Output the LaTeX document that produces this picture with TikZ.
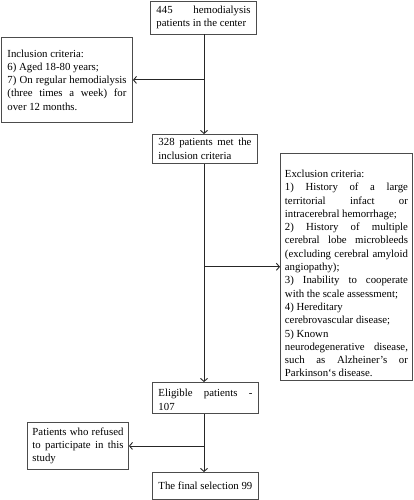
\documentclass[tikz,border=0pt]{standalone}
\usepackage{fontspec}
\setmainfont{Liberation Serif}
\usetikzlibrary{arrows.meta}
\newcommand\nohyph{\hyphenpenalty=10000 \exhyphenpenalty=10000 \tolerance=10000 \relax}
\tikzset{
  box/.style={draw=black!70, line width=0.9pt, anchor=north west, align=justify,
    font=\fontsize{10.8}{13.3}\selectfont\nohyph,
    inner xsep=6pt, inner ysep=3pt},
  conn/.style={draw=black!85, line width=0.9pt, -{Straight Barb[length=3pt,width=7pt]}}
}
\begin{document}
\begin{tikzpicture}[x=1pt,y=-1pt]
\useasboundingbox (0,0) rectangle (413,500);
\node[box, text width=94pt, minimum height=33pt] (top) at (150,0.6)
  {445 hemodialysis\linebreak patients in the center};
\node[box, text width=119pt, minimum height=85pt] (incl) at (1,37)
  {Inclusion criteria:\\
   6) Aged 18-80 years;\\
   7) On regular hemodialysis\linebreak (three times a week) for\linebreak over 12 months.};
\node[box, text width=93pt, minimum height=29pt] (sel) at (152,134)
  {328 patients met the\linebreak inclusion criteria};
\node[box, text width=123pt, inner xsep=4.5pt, minimum height=226pt] (excl) at (280,153)
  {\rule{0pt}{21pt}Exclusion criteria:\\
   1) History of a large\linebreak territorial infact or\linebreak intracerebral hemorrhage;\\
   2) History of multiple\linebreak cerebral lobe microbleeds\linebreak (excluding cerebral amyloid\linebreak angiopathy);\\
   3) Inability to cooperate\linebreak with the scale assessment;\\
   4) Hereditary\\
   cerebrovascular disease;\\
   5) Known\\
   neurodegenerative disease,\linebreak such as Alzheiner’s or\linebreak Parkinson‘s disease.};
\node[box, text width=94pt, minimum height=31pt] (elig) at (152,382)
  {\rule{0pt}{11pt}Eligible patients -\linebreak 107};
\node[box, text width=91pt, inner xsep=5pt, minimum height=47pt] (ref) at (27,422)
  {Patients who refused\linebreak to participate in this\linebreak study};
\node[box, text width=94pt, minimum height=27pt] (fin) at (152,472)
  {The final selection 99};
\coordinate (x0) at (204,0);
\draw[conn] (x0 |- top.south) -- (x0 |- sel.north);
\draw[conn] (x0 |- incl.east) -- (incl.east);
\draw[conn] (x0 |- sel.south) -- (x0 |- elig.north);
\draw[conn] (x0 |- excl.west) -- (excl.west);
\draw[conn] (x0 |- elig.south) -- (x0 |- fin.north);
\draw[conn] (x0 |- ref.east) -- (ref.east);
\end{tikzpicture}
\end{document}
